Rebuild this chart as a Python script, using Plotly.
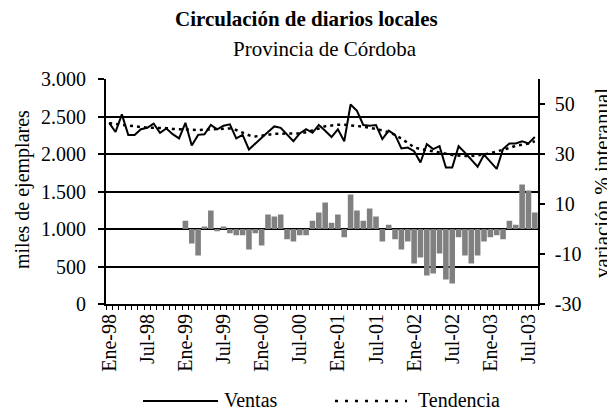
import plotly.graph_objects as go

# ---- data ----
nombres_mes = ["Ene", "Feb", "Mar", "Abr", "May", "Jun", "Jul", "Ago", "Sep", "Oct", "Nov", "Dic"]
anios = ["98", "99", "00", "01", "02", "03"]
meses = [f"{m}-{a}" for a in anios for m in nombres_mes][:68]  # Ene-98 .. Ago-03

ventas = [2415, 2293, 2528, 2255, 2255, 2330, 2349, 2406, 2283, 2340, 2264, 2208,
          2415, 2113, 2255, 2264, 2387, 2330, 2377, 2396, 2208, 2255, 2060, 2132,
          2217, 2292, 2368, 2349, 2264, 2170, 2274, 2330, 2283, 2387, 2311, 2226,
          2330, 2170, 2660, 2575, 2387, 2377, 2387, 2198, 2311, 2255, 2075, 2085,
          2038, 1887, 2132, 2066, 2104, 1821, 1821, 2104, 2019, 1925, 1830, 1991,
          1896, 1802, 2066, 2141, 2141, 2170, 2141, 2226]

tendencia = [2410, 2400, 2390, 2375, 2360, 2350, 2350, 2350, 2350, 2345, 2335, 2330,
             2325, 2320, 2320, 2325, 2330, 2335, 2340, 2340, 2320, 2290, 2250, 2235,
             2240, 2255, 2270, 2270, 2265, 2265, 2275, 2290, 2310, 2340, 2370, 2385,
             2390, 2390, 2385, 2375, 2365, 2350, 2335, 2315, 2290, 2255, 2205, 2150,
             2090, 2065, 2050, 2045, 2030, 2005, 1985, 1975, 1972, 1972, 1980, 1995,
             2010, 2030, 2050, 2080, 2110, 2125, 2140, 2170]

# interannual variation (%) from Ene-99 to Ago-03
variacion = [3.3, -5.8, -10.6, 1.0, 7.4, -0.9, 1.0, -1.7, -2.5, -2.5, -8.2, -1.7,
             -6.6, 5.8, 5.0, 5.8, -4.1, -5.0, -2.5, -2.5, 3.3, 6.6, 10.6, 2.5,
             5.8, -3.3, 13.8, 7.4, 3.3, 8.2, 5.0, -5.0, 1.7, -4.1, -8.2, -5.0,
             -13.8, -11.4, -18.6, -17.8, -9.8, -20.2, -21.8, -3.3, -10.6, -13.8, -10.6, -5.0,
             -3.3, -2.5, -4.1, 3.3, 1.7, 17.8, 15.4, 6.6]
inicio_var = 12

left_ticks = [0, 500, 1000, 1500, 2000, 2500, 3000]
left_ticktext = ["0", "500", "1.000", "1.500", "2.000", "2.500", "3.000"]
right_ticks = [-30, -10, 10, 30, 50]
right_ticktext = ["-30", "-10", "10", "30", "50"]

# ---- figure ----
FONT = "Liberation Serif, Times New Roman, serif"
idx = list(range(len(meses)))
idx_var = idx[inicio_var:inicio_var + len(variacion)]

fig = go.Figure()
fig.add_trace(go.Bar(x=idx_var, y=variacion, yaxis="y2", marker=dict(color="#808080", line=dict(width=0)),
                     name="Variación", showlegend=False))
fig.add_trace(go.Scatter(x=idx, y=tendencia, mode="lines", name="Tendencia",
                         line=dict(color="black", width=2.5, dash="3px,4px"), showlegend=False))
fig.add_trace(go.Scatter(x=idx, y=ventas, mode="lines", name="Ventas",
                         line=dict(color="black", width=2), showlegend=False))

# the page body has an 8px default margin: lay out in screen pixels minus that offset
OFF = 8
W, H = 615 - OFF, 412 - OFF
L, R, T, B = 106 - OFF, 538 - OFF, 79 - OFF, 304 - OFF
pw, ph = R - L, B - T
def px(x):
    return (x - OFF - L) / pw
def py(y):
    return (B - (y - OFF)) / ph

fig.update_layout(
    width=W, height=H,
    margin=dict(l=L, r=W - R, t=T, b=H - B),
    paper_bgcolor="white", plot_bgcolor="white",
    font=dict(family=FONT, size=20, color="black"),
    bargap=0.12,
    xaxis=dict(range=[-0.5, len(meses) - 0.5], tickmode="array",
               tickvals=idx[::6], ticktext=meses[::6], tickangle=-90,
               ticks="", showgrid=False, zeroline=False,
               showline=True, linecolor="black", linewidth=2,
               minor=dict(tickmode="linear", tick0=-0.5, dtick=1, ticks="outside",
                          ticklen=4, tickwidth=1, tickcolor="black", showgrid=False),
               ticklabelstandoff=0),
    yaxis=dict(range=[0, 3000], tickmode="array", tickvals=left_ticks, ticktext=left_ticktext,
               ticks="outside", ticklen=6, tickwidth=1.5, tickcolor="black",
               showgrid=True, gridcolor="black", gridwidth=1.5, zeroline=False,
               showline=True, linecolor="black", linewidth=2, ticklabelstandoff=8),
    yaxis2=dict(range=[-30, 60], overlaying="y", side="right", tickmode="array",
                tickvals=right_ticks, ticktext=right_ticktext,
                ticks="outside", ticklen=5, tickwidth=1.5, tickcolor="black",
                showgrid=False, zeroline=False,
                showline=True, linecolor="black", linewidth=1.5, ticklabelstandoff=6),
    annotations=[
        dict(text="<b>Circulación de diarios locales</b>", xref="paper", yref="paper",
             x=px(306), y=py(19), xanchor="center", yanchor="middle", showarrow=False,
             font=dict(size=21)),
        dict(text="Provincia de Córdoba", xref="paper", yref="paper",
             x=px(325), y=py(49), xanchor="center", yanchor="middle", showarrow=False,
             font=dict(size=21)),
        dict(text="miles de ejemplares", xref="paper", yref="paper",
             x=px(22), y=py(190), xanchor="center", yanchor="middle", showarrow=False,
             textangle=-90, font=dict(size=20)),
        dict(text="variación % interanual", xref="paper", yref="paper",
             x=px(602), y=py(183), xanchor="center", yanchor="middle", showarrow=False,
             textangle=-90, font=dict(size=21)),
        dict(text="Ventas", xref="paper", yref="paper",
             x=px(222), y=py(400), xanchor="left", yanchor="middle", showarrow=False,
             font=dict(size=20)),
        dict(text="Tendencia", xref="paper", yref="paper",
             x=px(416), y=py(400), xanchor="left", yanchor="middle", showarrow=False,
             font=dict(size=20)),
    ],
    shapes=[
        dict(type="line", xref="paper", yref="paper", x0=px(143), x1=px(218),
             y0=py(401), y1=py(401), line=dict(color="black", width=2)),
        dict(type="line", xref="paper", yref="paper", x0=px(335), x1=px(407),
             y0=py(401), y1=py(401), line=dict(color="black", width=2.5, dash="3px,7px")),
    ],
)

fig.write_html("out.html")
